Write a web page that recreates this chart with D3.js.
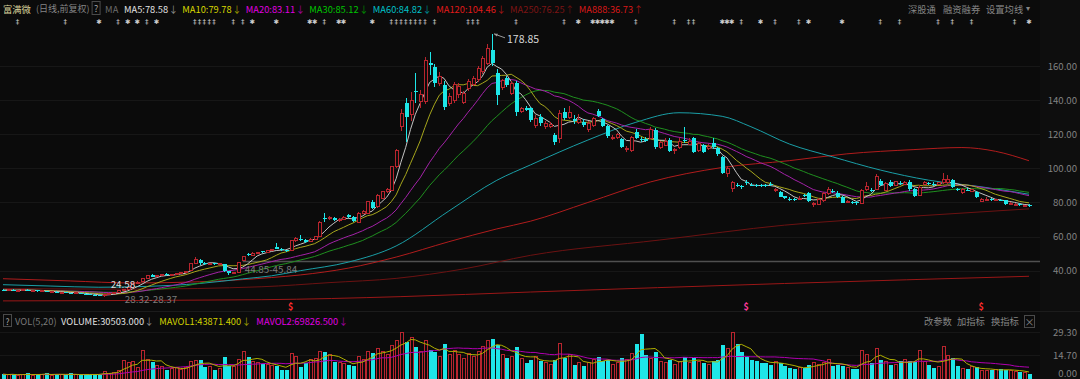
<!DOCTYPE html>
<html><head><meta charset="utf-8">
<script src="https://cdn.jsdelivr.net/npm/d3@7"></script>
<style>
html,body{margin:0;padding:0;background:#0b0b0b;overflow:hidden;}
svg{display:block;font-family:"Noto Sans CJK SC","Noto Sans",sans-serif;}
</style></head><body>
<svg id="c" width="1080" height="379"></svg>
<script>
// ---------------- data ----------------
const opens=[
28.9,28.5,28.8,28.2,28.6,28.9,28.3,28.5,27.9,28.1,
27.6,27.8,27.3,27.5,27.0,26.8,27.1,26.5,26.2,25.9,
25.6,25.3,25.9,26.6,27.2,28.5,29.0,30.2,32.8,33.5,
35.6,37.3,36.5,37.0,38.1,37.4,37.8,38.3,39.0,40.0,
44.2,46.4,44.3,44.0,44.3,44.0,44.0,39.6,38.5,38.9,
46.2,49.8,49.0,50.1,51.3,50.7,51.8,53.8,53.0,52.0,
52.0,57.5,58.4,57.8,57.0,58.5,60.0,70.9,70.5,71.0,
69.6,70.2,72.5,71.5,68.2,73.8,73.8,80.4,77.5,82.4,
86.3,87.3,101.0,124.4,138.5,131.3,145.5,139.0,139.0,161.5,
159.6,149.8,148.9,138.1,139.5,143.0,138.5,146.9,149.0,151.8,
156.7,161.6,169.4,155.7,147.5,152.8,144.0,149.9,133.5,135.2,
135.2,125.4,130.3,124.5,124.5,119.5,117.6,133.2,130.0,128.8,
127.0,127.3,122.5,125.4,133.8,128.7,124.8,117.5,118.0,117.0,
111.2,110.3,121.5,117.2,117.0,117.6,122.5,112.3,113.5,116.6,
110.3,112.0,116.8,114.0,117.6,110.5,113.7,111.5,115.0,111.7,
106.8,97.1,88.3,90.5,89.5,92.0,90.5,90.3,90.2,90.3,
91.0,86.8,86.3,83.5,82.3,81.8,82.0,84.2,85.3,78.7,
79.1,81.0,85.0,86.8,85.7,83.0,80.2,80.4,80.5,79.5,
87.7,87.6,87.7,92.7,87.3,92.2,90.0,91.5,90.8,92.2,
87.7,84.0,90.8,91.5,91.0,90.5,91.8,91.5,93.2,87.8,
85.8,87.6,86.5,86.3,80.6,81.5,81.8,81.2,81.6,81.2,
79.1,78.8,79.0,78.0,78.6];
const highs=[
29.3,29.0,29.0,28.8,29.2,29.0,28.7,28.6,28.3,28.2,
28.0,27.9,27.8,27.6,27.2,27.3,27.2,26.7,26.6,26.1,
25.8,26.1,26.8,27.4,28.32,29.3,30.4,33.0,33.8,36.0,
37.5,37.8,37.4,38.2,38.5,38.1,38.6,39.2,40.0,44.5,
47.8,47.0,45.0,44.8,44.7,44.6,44.2,39.9,39.4,44.85,
48.8,50.6,50.8,51.2,51.8,52.4,53.0,56.0,53.6,52.4,
58.0,59.5,61.0,58.6,59.0,60.6,69.0,74.0,71.8,71.5,
70.8,72.0,73.5,72.0,74.5,75.5,81.0,81.5,85.0,87.0,
88.5,101.5,111.5,135.0,141.0,145.0,156.0,146.0,165.0,168.0,
161.0,156.5,151.0,144.0,150.5,150.0,145.5,152.5,154.0,160.0,
166.0,173.0,178.85,158.0,152.5,154.0,151.0,151.0,136.0,136.5,
136.0,131.0,132.0,127.5,127.0,121.0,134.0,135.5,136.5,131.0,
132.0,129.0,127.5,130.0,135.0,129.5,125.5,119.5,121.0,118.0,
113.0,119.0,123.0,118.5,118.5,124.5,123.5,116.0,117.5,117.5,
112.0,117.5,124.0,117.5,118.5,115.5,114.5,114.0,117.5,112.5,
107.5,101.5,92.5,91.5,90.5,93.0,91.5,91.0,91.0,91.0,
91.8,88.5,86.8,84.0,83.0,82.5,83.5,85.0,86.0,80.0,
82.5,86.0,89.0,88.0,86.5,83.8,81.5,81.0,81.0,88.0,
92.0,88.5,96.5,93.5,92.0,93.0,92.8,92.5,92.5,93.0,
88.5,90.0,92.5,92.0,91.8,92.0,97.4,96.0,94.0,88.5,
88.5,88.5,88.0,87.0,82.5,83.0,82.5,82.2,82.0,81.6,
80.2,79.6,79.4,78.8,78.9];
const lows=[
28.2,28.2,28.0,28.0,28.4,28.1,28.0,27.7,27.6,27.4,
27.3,27.1,27.1,26.8,26.5,26.6,26.3,26.0,25.7,25.3,
25.0,24.58,25.7,26.4,27.0,28.37,28.8,30.0,32.3,33.2,
35.2,36.2,36.1,36.8,37.0,37.1,37.5,38.0,38.7,39.8,
43.8,43.2,43.6,43.5,43.6,43.4,39.3,37.6,38.0,38.5,
45.84,48.6,48.5,49.6,50.2,50.4,51.3,52.6,51.6,51.0,
51.7,56.8,57.2,56.4,56.6,58.0,59.8,68.7,69.6,69.0,
68.8,69.5,71.0,68.8,67.8,73.0,73.4,76.0,77.0,82.0,
85.5,87.0,100.0,122.0,115.5,128.0,138.5,135.5,138.0,155.0,
147.5,148.0,134.0,136.5,138.5,141.5,137.5,145.5,148.0,150.5,
155.5,160.5,160.0,137.0,146.0,147.5,143.0,130.5,132.5,133.5,
127.0,123.5,125.0,123.0,123.5,113.5,115.0,128.5,129.0,126.0,
126.0,124.5,121.5,124.5,130.0,124.0,118.0,116.5,117.0,112.0,
109.8,109.5,117.0,115.5,115.5,117.0,111.5,111.5,113.0,109.5,
108.5,111.5,115.0,113.5,109.0,109.5,109.0,110.5,111.5,107.5,
96.5,95.0,86.0,89.0,88.0,90.5,89.5,89.0,89.0,89.2,
89.8,86.0,83.0,82.2,81.0,80.6,81.5,83.0,80.5,77.5,
78.5,80.5,84.5,85.5,82.5,79.5,79.5,79.2,78.5,79.0,
87.0,86.2,87.2,89.5,86.8,89.0,89.5,90.5,90.2,87.0,
83.0,83.5,90.0,90.5,89.8,90.0,91.0,91.0,88.5,86.5,
85.0,86.5,86.0,82.5,80.0,81.0,81.0,80.8,80.8,78.8,
78.6,78.4,78.0,77.6,77.5];
const closes=[
28.5,28.8,28.2,28.6,28.9,28.3,28.5,27.9,28.1,27.6,
27.8,27.3,27.5,27.0,26.8,27.1,26.5,26.2,25.9,25.6,
25.3,25.9,26.6,27.2,28.1,29.0,30.1,32.6,33.3,35.6,
37.0,36.5,37.0,37.8,37.4,37.8,38.3,38.9,39.7,44.0,
46.6,44.3,44.0,44.3,44.0,44.2,39.8,38.8,39.0,44.6,
48.3,49.2,50.2,50.8,50.7,52.0,52.6,53.0,52.0,51.5,
57.5,58.6,57.8,57.0,58.5,60.0,68.0,70.5,71.0,69.6,
70.2,71.2,71.5,69.3,73.8,74.6,80.4,76.5,84.3,86.3,
87.5,101.0,110.7,132.3,130.3,140.0,145.0,143.0,163.5,160.5,
149.8,153.7,136.1,142.0,149.0,148.0,144.0,150.8,152.5,158.7,
164.5,170.4,161.6,143.0,151.5,148.9,149.9,133.2,135.2,134.2,
128.3,129.3,126.4,126.0,125.8,115.6,132.3,129.3,132.5,128.0,
128.5,125.4,126.4,129.3,130.7,124.8,119.1,118.2,120.0,112.7,
111.8,118.2,117.6,116.4,116.2,122.5,112.3,115.0,116.0,110.3,
111.0,116.0,116.0,116.0,109.7,114.5,109.7,113.0,112.3,108.4,
97.1,100.0,91.6,90.0,89.0,91.2,90.0,89.8,89.7,89.8,
90.4,87.6,83.4,82.8,81.6,81.2,82.6,83.5,81.0,79.2,
81.8,85.3,87.5,86.3,83.0,79.9,80.6,80.0,79.6,87.3,
89.5,87.0,95.1,90.2,91.2,89.6,92.0,91.0,91.6,87.7,
83.8,89.0,91.5,91.0,90.3,91.5,93.5,93.5,89.2,87.2,
87.5,87.0,87.5,83.0,81.6,81.8,81.5,81.6,81.2,79.0,
79.5,79.0,78.4,78.2,77.8];
// volume in units of 10,000 (axis units)
const volumes=[
3.0,2.5,3.2,2.2,2.8,3.5,2.4,3.0,2.6,3.8,
2.2,2.9,3.1,2.4,3.6,2.5,2.2,3.0,2.7,3.4,
2.8,4.5,3.5,4.2,5.5,11.8,10.5,11.0,6.9,18.0,
12.0,10.6,8.5,7.5,5.6,6.5,7.2,6.0,7.0,10.8,
11.8,11.8,7.6,7.6,5.6,6.5,13.7,7.8,7.5,12.0,
17.0,14.0,11.0,10.0,9.5,9.0,8.5,7.8,5.6,5.6,
16.2,14.0,7.5,9.9,12.0,13.0,17.0,17.0,15.5,10.6,
10.0,9.5,9.0,8.3,14.0,12.0,17.0,16.0,19.0,17.0,
15.0,21.0,24.0,29.0,23.0,26.0,20.0,17.0,24.0,18.0,
17.0,14.0,22.0,15.0,18.0,15.0,13.0,16.0,14.0,17.0,
20.0,24.0,25.0,21.0,15.0,13.0,14.0,20.0,13.0,10.0,
12.0,14.0,11.0,10.0,9.0,12.0,22.0,13.0,15.0,9.0,
10.0,8.0,10.0,12.0,14.0,11.0,12.0,9.0,10.0,13.0,
12.0,16.0,22.0,28.0,15.0,13.0,17.0,11.0,10.0,12.0,
9.0,11.0,14.0,10.0,13.0,11.0,10.0,9.0,11.0,12.0,
21.0,19.0,29.0,22.0,17.0,14.0,12.0,11.0,10.0,10.0,
9.0,11.0,10.0,8.0,7.0,6.0,7.0,7.0,9.0,10.0,
9.0,10.0,12.0,8.0,9.0,8.0,7.0,6.0,6.5,18.0,
15.0,10.0,19.0,12.0,11.0,9.0,9.0,11.0,12.0,11.0,
10.6,18.0,11.0,9.0,6.9,8.0,20.0,14.6,12.8,8.0,
6.5,6.5,7.5,7.5,5.2,5.2,5.8,5.8,6.0,5.8,
5.2,4.8,4.6,4.3,3.05];

// long moving averages (candle index, value)
const ma60Idx=[0,10,20,30,41,50,56,62,72,82,93,103,110,122,132,141,150,156,164,173,183,193,204,214];
const ma60Val=[31.8,31.0,30.3,30.8,32.5,35.2,37.0,40.0,45.0,54.5,75.0,93.0,102.0,116.6,127.0,132.6,130.5,124.4,114.3,106.8,99.0,93.1,89.2,84.82];
const ma120Idx=[0,14,27,41,56,62,72,82,93,103,110,122,135,150,164,176,190,200,207,214];
const ma120Val=[35.3,34.0,32.8,33.5,36.0,37.5,41.5,48.0,57.0,64.5,69.0,80.0,92.0,100.5,104.5,108.5,111.0,112.2,110.0,104.46];
const ma250Idx=[0,27,54,68,82,96,110,137,163,190,214];
const ma250Val=[29.5,29.2,30.6,33.0,35.5,41.0,49.0,58.0,66.7,72.0,76.25];
const ma888Idx=[0,54,83,110,163,214];
const ma888Val=[22.3,23.0,24.8,27.5,32.5,36.73];

const priceTicks=[40,60,80,100,120,140,160];
const volTicks=[0,14.70,29.30];
const maLabels=["MA5:78.58","MA10:79.78","MA20:83.11","MA30:85.12","MA60:84.82","MA120:104.46","MA250:76.25","MA888:36.73"];
const maArrows=["↓","↓","↓","↓","↓","↓","↑","↑"];
const volLabels=["VOLUME:30503.000","MAVOL1:43871.400","MAVOL2:69826.500"];
const volArrows=["↓","↓","↓"];
const gaps=[{i:25,lo:28.32,hi:28.37},{i:50,lo:44.85,hi:45.84}];
const eventIdx=[3,13,20,24,26,28,30,32,40,41,42,43,44,48,50,52,57,64,65,67,70,71,77,81,82,83,84,85,86,87,88,90,97,98,99,107,117,120,123,124,125,126,127,132,140,143,144,150,151,152,154,158,161,166,168,175,183,187,195,198,202,211,214];
const eventType=["d","d","s","d","s","s","d","s","d","d","d","d","d","d","d","s","s","s","s","d","s","s","s","d","d","d","d","d","d","d","d","d","d","d","d","d","d","s","s","s","s","s","s","d","d","d","d","s","s","s","d","s","d","d","s","s","d","d","d","d","d","d","s"];
const dollarIdx=[60,155,204];

// ---------------- drawing ----------------
const BG="#0b0b0b", UP="#b8252e", DN="#1ee6e8";
const svg=d3.select("#c");
const W=1080,H=379,plotR=1040;
const n=closes.length;
const x=d3.scaleLinear().domain([0,n-1]).range([3,1029]);
const y=d3.scaleLinear().domain([40,160]).range([270.7,66]);
const yv=d3.scaleLinear().domain([0,29.3]).range([379,332]);

const defs=svg.append("defs");
defs.append("clipPath").attr("id","cpP").append("rect").attr("x",0).attr("y",28).attr("width",plotR).attr("height",283);
defs.append("clipPath").attr("id","cpV").append("rect").attr("x",0).attr("y",328).attr("width",plotR).attr("height",51);

svg.append("rect").attr("width",W).attr("height",H).attr("fill",BG);
svg.append("rect").attr("x",plotR).attr("y",0).attr("width",W-plotR).attr("height",H).attr("fill","#0e0e0e");

// grid
svg.append("g").selectAll("line").data(priceTicks).join("line")
  .attr("x1",0).attr("x2",plotR).attr("y1",d=>Math.round(y(d))+0.5).attr("y2",d=>Math.round(y(d))+0.5)
  .attr("stroke","#171717");
svg.append("g").selectAll("line").data(volTicks.slice(1)).join("line")
  .attr("x1",0).attr("x2",plotR).attr("y1",d=>Math.round(yv(d))+0.5).attr("y2",d=>Math.round(yv(d))+0.5)
  .attr("stroke","#171717");
svg.append("line").attr("x1",0).attr("x2",W).attr("y1",311.5).attr("y2",311.5).attr("stroke","#1c1c1c");

// axes
const fmt=d3.format(".2f");
const axP=svg.append("g").attr("transform","translate(1077,0)")
  .call(d3.axisRight(y).tickValues(priceTicks).tickFormat(fmt).tickSize(0).tickPadding(0));
axP.select(".domain").remove();
axP.attr("font-family",null).attr("font-size",null);
axP.selectAll("text").attr("text-anchor","end").attr("fill","#828282").style("font-size","9.6px");
const axV=svg.append("g").attr("transform","translate(1077,0)")
  .call(d3.axisRight(yv).tickValues(volTicks).tickFormat(fmt).tickSize(0).tickPadding(0));
axV.select(".domain").remove();
axV.attr("font-family",null).attr("font-size",null);
axV.selectAll("text").attr("text-anchor","end").attr("fill","#828282").style("font-size","9.6px")
  .attr("dy",d=>d===0?"-0.3em":"0.32em");

// gap line (the upper, still-open gap)
const gP=svg.append("g").attr("clip-path","url(#cpP)");
gP.selectAll("line.gap").data(gaps.slice(1)).join("line").attr("class","gap")
  .attr("x1",d=>x(d.i)).attr("x2",plotR).attr("y1",d=>Math.round(y(d.hi))+0.5).attr("y2",d=>Math.round(y(d.hi))+0.5)
  .attr("stroke","#505050").attr("stroke-width",1.3);

// long MAs
const lineS=d3.line().x(d=>x(d[0])).y(d=>y(d[1])).curve(d3.curveMonotoneX);
[[ma888Idx,ma888Val,"#9a1717"],[ma250Idx,ma250Val,"#6c1212"],[ma120Idx,ma120Val,"#b01c1c"],[ma60Idx,ma60Val,"#1a9ea6"]]
 .forEach(([a,b,c])=>gP.append("path").attr("d",lineS(d3.zip(a,b))).attr("fill","none").attr("stroke",c).attr("stroke-width",1));

// short MAs computed from closes
const sma=(arr,k)=>arr.map((_,i)=>d3.mean(arr.slice(Math.max(0,i-k+1),i+1)));
const lineC=d3.line().x((d,i)=>x(i)).y(d=>y(d));
[[30,"#1f8f1f"],[20,"#a322a8"],[10,"#a6a61c"],[5,"#c4c4c4"]]
 .forEach(([k,c])=>gP.append("path").attr("d",lineC(sma(closes,k))).attr("fill","none").attr("stroke",c).attr("stroke-width",1));

// candles
const data=d3.range(n).map(i=>({i,o:opens[i],h:highs[i],l:lows[i],c:closes[i],v:volumes[i],up:closes[i]>=opens[i]}));
const cx=i=>Math.round(x(i))+0.5;
const gc=gP.append("g").attr("shape-rendering","crispEdges");
gc.selectAll("line").data(data).join("line")
  .attr("x1",d=>cx(d.i)).attr("x2",d=>cx(d.i)).attr("y1",d=>y(d.h)).attr("y2",d=>y(d.l))
  .attr("stroke",d=>d.up?UP:DN);
gc.selectAll("rect").data(data).join("rect")
  .attr("x",d=>d.up?cx(d.i)-1.5:cx(d.i)-2)
  .attr("width",d=>d.up?3:4)
  .attr("y",d=>y(Math.max(d.o,d.c)))
  .attr("height",d=>Math.max(1,y(Math.min(d.o,d.c))-y(Math.max(d.o,d.c))))
  .attr("fill",d=>d.up?BG:DN).attr("stroke",d=>d.up?UP:"none");

// volume
const gV=svg.append("g").attr("clip-path","url(#cpV)");
gV.append("g").attr("shape-rendering","crispEdges").selectAll("rect").data(data).join("rect")
  .attr("x",d=>d.up?cx(d.i)-1.5:cx(d.i)-2)
  .attr("width",d=>d.up?3:4)
  .attr("y",d=>yv(d.v)).attr("height",d=>yv(0)-yv(d.v)+2)
  .attr("fill",d=>d.up?BG:DN).attr("stroke",d=>d.up?UP:"none");
const lineV=d3.line().x((d,i)=>x(i)).y(d=>yv(d));
[[20,"#b000b0"],[5,"#b0b000"]].forEach(([k,c])=>gV.append("path").attr("d",lineV(sma(volumes,k))).attr("fill","none").attr("stroke",c).attr("stroke-width",1));

// annotations: high / low / gaps
const hi=d3.maxIndex(highs), lo=d3.minIndex(lows);
svg.append("line").attr("x1",x(hi)+2).attr("y1",y(highs[hi])).attr("x2",x(hi)+13).attr("y2",y(highs[hi])+4).attr("stroke","#9a9a9a");
svg.append("path").attr("d",`M${x(hi)+2},${y(highs[hi])} l4,-0.2 l-1.5,2.8 z`).attr("fill","#9a9a9a");
svg.append("text").attr("x",x(hi)+15).attr("y",y(highs[hi])+5).attr("dominant-baseline","central")
  .attr("fill","#d6d6d6").style("font-size","10.5px").text(highs[hi].toFixed(2));
svg.append("text").attr("x",x(lo)+7).attr("y",y(lows[lo])-13).attr("dominant-baseline","central")
  .attr("fill","#dcdcdc").style("font-size","9.8px").text(lows[lo].toFixed(2));
svg.selectAll("text.gapl").data(gaps).join("text").attr("class","gapl")
  .attr("x",d=>x(d.i)+2).attr("y",d=>y(d.hi)+8.5).attr("dominant-baseline","central")
  .attr("fill","#7c7c7c").style("font-size","9.8px").text(d=>d.lo.toFixed(2)+"-"+d.hi.toFixed(2));

// event markers
svg.append("g").selectAll("text").data(eventIdx).join("text")
  .attr("x",d=>x(d)).attr("y",22).attr("text-anchor","middle").attr("dominant-baseline","central")
  .attr("fill","#cfcfcf").style("font-family","'DejaVu Sans',sans-serif")
  .style("font-size",(d,i)=>eventType[i]==="s"?"6.5px":"7px")
  .text((d,i)=>eventType[i]==="s"?"✱":"‡");
svg.append("g").selectAll("text").data(dollarIdx).join("text")
  .attr("x",d=>x(d)).attr("y",306).attr("text-anchor","middle").attr("dominant-baseline","central")
  .attr("fill",(d,i)=>i===1?"#ff3a9c":"#ff2b2b").style("font-size","9px").style("font-weight","bold").text("$");

// ---------------- header texts ----------------
function T(px,py,t,c,size,anchor){
  return svg.append("text").attr("x",px).attr("y",py).attr("dominant-baseline","central")
    .attr("text-anchor",anchor||"start").attr("fill",c).style("font-size",(size||9.3)+"px").text(t);
}
// lay out label/arrow pairs between x0 and x1, arrows hugging their label
function seq(labels,arrows,cols,acols,x0,x1,yy,size){
  const L=labels.map((t,i)=>T(0,yy,t,cols[i],size));
  const A=arrows.map((t,i)=>T(0,yy,t,acols[i],size));
  const wl=L.map(s=>s.node().getComputedTextLength()), wa=A.map(s=>s.node().getComputedTextLength());
  const hug=0.5;
  const gap=(x1-x0-d3.sum(wl)-d3.sum(wa)-hug*labels.length)/(labels.length-1);
  let cur=x0;
  L.forEach((s,i)=>{s.attr("x",cur);cur+=wl[i]+hug;A[i].attr("x",cur);cur+=wa[i]+gap;});
}
const HY=8.5;
T(3,HY,"富满微","#d8d09a",9.3);
const t2=T(36,HY,"(日线,前复权)","#858585",9);
const w2=t2.node().getComputedTextLength();
const bx=Math.max(91.5,36+w2+2.5);
svg.append("rect").attr("x",bx).attr("y",1.5).attr("width",8).attr("height",13).attr("fill","none").attr("stroke","#4a4a4a");
T(bx+4,HY,"?","#a0a0a0",9,"middle");
T(bx+13,HY,"MA","#6a6a6a",9.3);
const maTextCol=["#e2e2e2","#d6d600","#e000e0","#00c400","#00c0c8","#e01a1a","#7e1414","#d81818"];
const maArrowCol=["#8a8a8a","#9a9a00","#a000a0","#008c00","#008a90","#a01414","#6a1010","#a01414"];
seq(maLabels,maArrows,maTextCol,maArrowCol,124,643,HY,9.3);
T(908,HY,"深股通","#858585",9.3);
T(943,HY,"融资融券","#858585",9.3);
T(986,HY,"设置均线","#858585",9.3);
T(1026,HY-1,"▾","#858585",7.5);

// volume header
const VY=321;
svg.append("rect").attr("x",3.5).attr("y",314.5).attr("width",8).attr("height",12).attr("fill","none").attr("stroke","#4a4a4a");
T(7.5,VY,"?","#a0a0a0",8.5,"middle");
T(15,VY,"VOL(5,20)","#7a7a7a",9.3);
seq(volLabels,volArrows,["#e2e2e2","#d0d000","#e000e0"],["#8a8a8a","#9a9a00","#a000a0"],61,348,VY,9.3);
T(924,VY,"改参数","#858585",9.3);
T(957,VY,"加指标","#858585",9.3);
T(991,VY,"换指标","#858585",9.3);
svg.append("rect").attr("x",1024.5).attr("y",315.5).attr("width",10).attr("height",12).attr("fill","none").attr("stroke","#4a4a4a");
T(1029.5,VY,"×","#858585",10,"middle");
</script>
</body></html>
